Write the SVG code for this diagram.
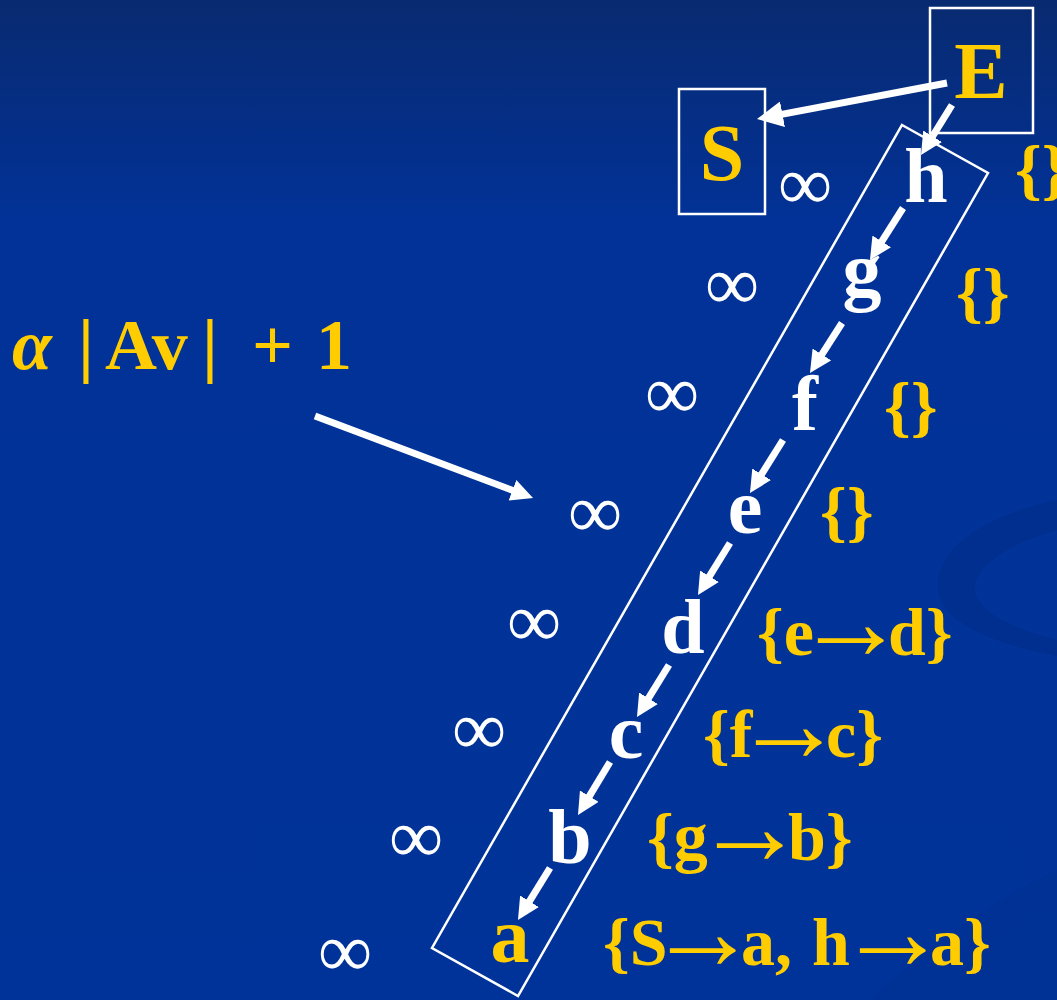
<svg xmlns="http://www.w3.org/2000/svg" width="1057" height="1000" viewBox="0 0 1057 1000">
<style>
.node{font-family:"Liberation Serif","Times New Roman",serif;font-weight:bold;font-size:78px;fill:#FFFFFF;text-anchor:middle}
.ynode{font-family:"Liberation Serif","Times New Roman",serif;font-weight:bold;font-size:80px;fill:#FFCC00;text-anchor:middle}
.lbl{font-family:"Liberation Serif","Times New Roman",serif;font-weight:bold;font-size:68px;fill:#FFCC00}
.fml{font-family:"Liberation Serif","Times New Roman",serif;font-weight:bold;font-size:72px;fill:#FFCC00}
.ar{font-weight:normal;font-size:111px}
.inf{font-family:"Liberation Serif","DejaVu Serif",serif;font-size:76px;fill:#FFFFFF;text-anchor:middle}
.box{fill:none;stroke:#FFFFFF;stroke-width:2.5}
.arr{stroke:#FFFFFF;stroke-width:7;fill:none}
</style>
<defs>
<linearGradient id="bg" x1="0" y1="0" x2="0" y2="1">
<stop offset="0" stop-color="#082a70"/>
<stop offset="0.22" stop-color="#023297"/>
<stop offset="1" stop-color="#003399"/>
</linearGradient>
<marker id="hd" viewBox="0 0 22 22" markerWidth="22" markerHeight="22" markerUnits="userSpaceOnUse" refX="4" refY="11" orient="auto">
<path d="M0,0 L22,11 L0,22 Z" fill="#FFFFFF"/>
</marker>
<marker id="hdL" viewBox="0 0 26 26" markerWidth="26" markerHeight="26" markerUnits="userSpaceOnUse" refX="5" refY="13" orient="auto">
<path d="M0,0 L26,13 L0,26 Z" fill="#FFFFFF"/>
</marker>
</defs>
<rect width="1057" height="1000" fill="url(#bg)"/>
<path d="M1057,500 C990,515 935,545 938,590 C942,625 1000,645 1057,656 L1057,640 C1010,628 972,610 975,585 C980,560 1020,540 1057,530 Z" fill="#002c86" opacity="0.5"/>
<path d="M870,1000 C930,945 1000,895 1057,870 L1057,1000 Z" fill="#002f8e" opacity="0.45"/>

<g id="chain">
<polygon class="box" points="902,125 988,173 518,996 432,948"/>
</g>

<g id="connectors">
<line class="arr" x1="947" y1="83" x2="777.6" y2="115.1" stroke-width="8" marker-end="url(#hdL)"/>
<line class="arr" x1="952" y1="105" x2="930.5" y2="139.7" marker-end="url(#hd)"/>
<line class="arr" x1="903" y1="208" x2="879.6" y2="244.8" marker-end="url(#hd)"/>
<line class="arr" x1="842" y1="323" x2="819.7" y2="357.8" marker-end="url(#hd)"/>
<line class="arr" x1="783" y1="440" x2="759.5" y2="477.7" marker-end="url(#hd)"/>
<line class="arr" x1="730" y1="543" x2="707.4" y2="579.7" marker-end="url(#hd)"/>
<line class="arr" x1="669" y1="665" x2="646.4" y2="701.7" marker-end="url(#hd)"/>
<line class="arr" x1="610" y1="762" x2="587.3" y2="799.6" marker-end="url(#hd)"/>
<line class="arr" x1="550" y1="868" x2="527.4" y2="904.7" marker-end="url(#hd)"/>
<line class="arr" x1="315" y1="416" x2="516.2" y2="491.7" stroke-width="6" marker-end="url(#hd)"/>
</g>

<g id="node-E"><rect class="box" x="930" y="8" width="103" height="125"/><text class="ynode" x="981" y="98">E</text></g>
<g id="node-S"><rect class="box" x="679" y="89" width="86" height="125"/><text class="ynode" x="722" y="180">S</text></g>
<g id="node-h"><text class="node" x="926" y="202">h</text></g>
<g id="node-g"><text class="node" x="862" y="296">g</text></g>
<g id="node-f"><text class="node" x="805" y="430">f</text></g>
<g id="node-e"><text class="node" x="745" y="533">e</text></g>
<g id="node-d"><text class="node" x="683" y="653">d</text></g>
<g id="node-c"><text class="node" x="626" y="758">c</text></g>
<g id="node-b"><text class="node" x="570" y="863">b</text></g>
<g id="node-a"><text class="node" x="510" y="962" style="fill:#FFCC00">a</text></g>

<g id="distances">
<text class="inf" x="805" y="209">∞</text>
<text class="inf" x="732" y="309">∞</text>
<text class="inf" x="672" y="418">∞</text>
<text class="inf" x="595" y="537">∞</text>
<text class="inf" x="534" y="646">∞</text>
<text class="inf" x="479" y="754">∞</text>
<text class="inf" x="416" y="862">∞</text>
<text class="inf" x="345" y="976">∞</text>
</g>

<g id="labels">
<text class="lbl" x="1015" y="192">{}</text>
<text class="lbl" x="956" y="315">{}</text>
<text class="lbl" x="884" y="429">{}</text>
<text class="lbl" x="820" y="534">{}</text>
<text class="lbl" y="655"><tspan x="757">{e</tspan><tspan class="ar" x="795" dy="4">→</tspan><tspan x="888" dy="-4">d}</tspan></text>
<text class="lbl" y="757"><tspan x="703">{f</tspan><tspan class="ar" x="733" dy="4">→</tspan><tspan x="826" dy="-4">c}</tspan></text>
<text class="lbl" y="860"><tspan x="647">{g</tspan><tspan class="ar" x="694" dy="4">→</tspan><tspan x="788" dy="-4">b}</tspan></text>
<text class="lbl" y="965"><tspan x="603">{S</tspan><tspan class="ar" x="647" dy="4">→</tspan><tspan x="741" dy="-4">a,</tspan><tspan x="812">h</tspan><tspan class="ar" x="837" dy="4">→</tspan><tspan x="930" dy="-4">a}</tspan></text>
</g>

<g id="formula">
<text class="fml" y="369"><tspan x="12" font-style="italic">α</tspan><tspan x="78">|</tspan><tspan x="105">Av</tspan><tspan x="202">|</tspan><tspan x="252">+</tspan><tspan x="316">1</tspan></text>
</g>
</svg>
